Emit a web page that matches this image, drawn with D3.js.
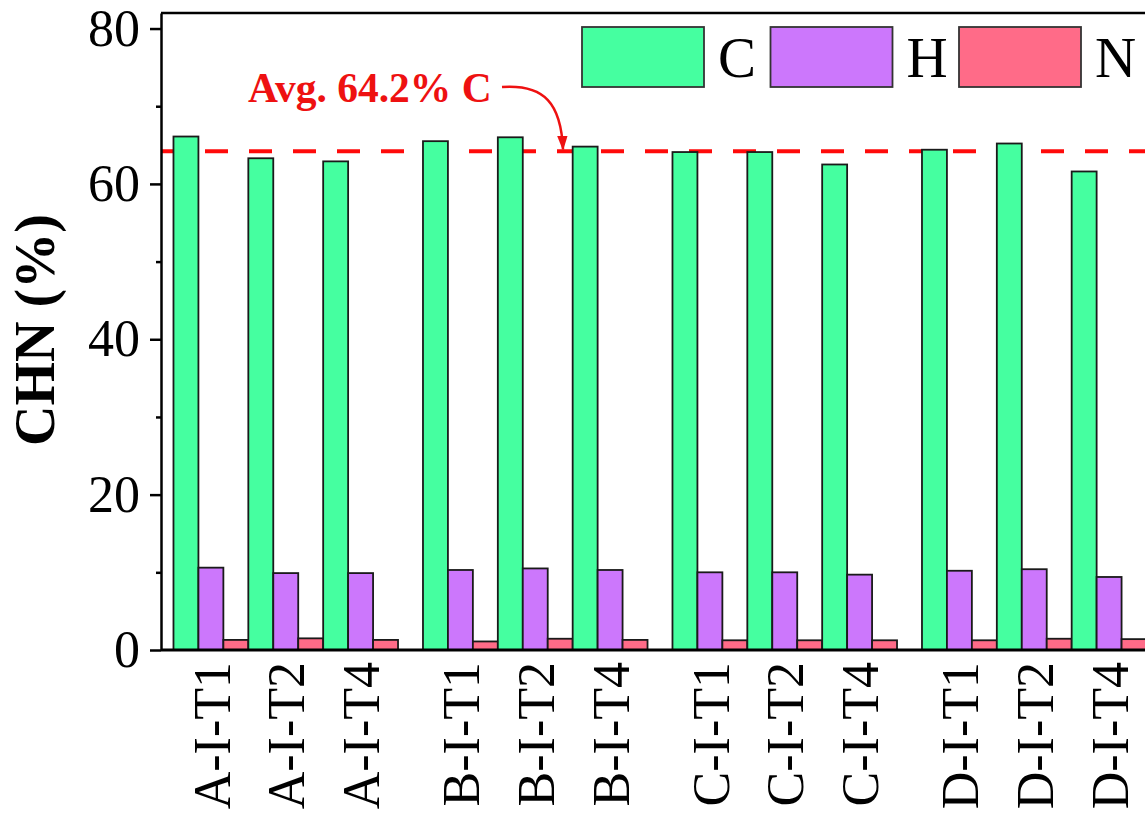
<!DOCTYPE html>
<html>
<head>
<meta charset="utf-8">
<script src="https://cdn.jsdelivr.net/npm/d3@7"></script>
<style>
  body { margin: 0; background: #fff; }
  svg { display: block; font-family: "Liberation Serif", "Times New Roman", serif; }
</style>
</head>
<body>
<svg width="1145" height="813"></svg>
<script>
var groups = ["A", "B", "C", "D"];
var samples = ["T1", "T2", "T4"];
var series = ["C", "H", "N"];
var colors = ["#45ffa0", "#cc77fc", "#ff6b88"];

// values per sample, order A-T1, A-T2, A-T4, B-T1 ...
var cValues = [66.1, 63.3, 62.9, 65.5, 66.0, 64.8, 64.1, 64.1, 62.5, 64.4, 65.2, 61.6];
var hValues = [10.6, 9.9, 9.9, 10.3, 10.5, 10.3, 10.0, 10.0, 9.7, 10.2, 10.4, 9.4];
var nValues = [1.3, 1.5, 1.3, 1.1, 1.45, 1.3, 1.25, 1.25, 1.25, 1.25, 1.45, 1.4];
var avgC = 64.2;
var yTicks = [0, 20, 40, 60, 80];
var yMinorTicks = [10, 30, 50, 70];

// note: "top" is taken by window.top, so plot edges get their own names
var svg = d3.select("svg"),
    plotLeft = 161,
    plotRight = 1159,
    plotTop = 13,
    plotBottom = 650;

var data = [];
groups.forEach(function(g, gi) {
  samples.forEach(function(s, si) {
    var i = gi * samples.length + si;
    data.push({group: g, sample: s, label: g + "-I-" + s, values: [cValues[i], hValues[i], nValues[i]]});
  });
});

var y = d3.scaleLinear().domain([0, 82]).range([plotBottom, plotTop]);

var x0 = d3.scaleBand().domain(groups).range([plotLeft, plotRight])
    .paddingInner(0.1).paddingOuter(0.05);
var x1 = d3.scaleBand().domain(samples).range([0, x0.bandwidth()]);
var x2 = d3.scaleBand().domain(series).range([0, x1.bandwidth()]);

// average line (behind the bars)
svg.append("line")
    .attr("x1", plotLeft).attr("x2", plotRight)
    .attr("y1", y(avgC)).attr("y2", y(avgC))
    .attr("stroke", "#ff0a0a")
    .attr("stroke-width", 4)
    .attr("stroke-dasharray", "23,21");

var sample = svg.selectAll(".sample")
    .data(data)
  .enter().append("g")
    .attr("class", "sample")
    .attr("transform", function(d) { return "translate(" + (x0(d.group) + x1(d.sample)) + ",0)"; });

sample.selectAll("rect")
    .data(function(d) { return d.values.map(function(v, k) { return {key: series[k], value: v}; }); })
  .enter().append("rect")
    .attr("x", function(d) { return x2(d.key); })
    .attr("y", function(d) { return y(d.value); })
    .attr("width", x2.bandwidth())
    .attr("height", function(d) { return y(0) - y(d.value); })
    .attr("fill", function(d) { return colors[series.indexOf(d.key)]; })
    .attr("stroke", "#1a1a1a")
    .attr("stroke-width", 1.8);

// x labels
svg.selectAll(".xlab")
    .data(data)
  .enter().append("text")
    .attr("class", "xlab")
    .attr("transform", function(d) {
      var cx = x0(d.group) + x1(d.sample) + x1.bandwidth() / 2;
      return "translate(" + cx + "," + 662 + ") rotate(-90)";
    })
    .attr("dy", "0.36em")
    .attr("text-anchor", "end")
    .attr("font-size", 52)
    .text(function(d) { return d.label; });

// frame lines
svg.append("line").attr("x1", plotLeft).attr("x2", plotRight + 10).attr("y1", plotTop).attr("y2", plotTop)
    .attr("stroke", "#000").attr("stroke-width", 2.5);
svg.append("line").attr("x1", plotLeft).attr("x2", plotRight + 10).attr("y1", plotBottom).attr("y2", plotBottom)
    .attr("stroke", "#000").attr("stroke-width", 3);

// y axis
var yAxis = svg.append("g")
    .attr("transform", "translate(" + plotLeft + ",0)")
    .call(d3.axisLeft(y).tickValues(yTicks).tickSize(11).tickSizeOuter(0).tickPadding(10));
yAxis.select(".domain").attr("stroke-width", 2.5);
yAxis.selectAll(".tick line").attr("stroke-width", 2.5);
yAxis.selectAll("text").attr("font-size", 52).attr("font-family", "Liberation Serif").attr("fill", "#000");

var yMinor = svg.append("g")
    .attr("transform", "translate(" + plotLeft + ",0)")
    .call(d3.axisLeft(y).tickValues(yMinorTicks).tickSize(5).tickFormat(""));
yMinor.select(".domain").remove();
yMinor.selectAll(".tick line").attr("stroke-width", 2.5);

svg.append("text")
    .attr("transform", "translate(54,330) rotate(-90)")
    .attr("text-anchor", "middle")
    .attr("font-size", 56)
    .attr("font-weight", "bold")
    .text("CHN (%)");

// legend
var legend = svg.selectAll(".legend")
    .data(series)
  .enter().append("g")
    .attr("class", "legend")
    .attr("transform", function(d, i) { return "translate(" + (582 + i * 188.5) + ",27)"; });
legend.append("rect")
    .attr("width", 122).attr("height", 60)
    .attr("fill", function(d, i) { return colors[i]; })
    .attr("stroke", "#333").attr("stroke-width", 1.8);
legend.append("text")
    .attr("x", 136).attr("y", 50)
    .attr("font-size", 57)
    .text(function(d) { return d; });

// annotation
svg.append("defs").append("marker")
    .attr("id", "arrow")
    .attr("viewBox", "0 0 10 10")
    .attr("refX", 9).attr("refY", 5)
    .attr("markerWidth", 6).attr("markerHeight", 6)
    .attr("orient", "auto")
  .append("path")
    .attr("d", "M0,1.5 L10,5 L0,8.5 Z")
    .attr("fill", "#ee1111");

svg.append("text")
    .attr("x", 248).attr("y", 102)
    .attr("font-size", 41.5)
    .attr("font-weight", "bold")
    .attr("fill", "#ee1111")
    .text("Avg. 64.2% C");

svg.append("path")
    .attr("d", "M502,87 C545,84 561,104 563," + (y(avgC) - 2))
    .attr("fill", "none")
    .attr("stroke", "#ee1111")
    .attr("stroke-width", 2.5)
    .attr("marker-end", "url(#arrow)");
</script>
</body>
</html>
